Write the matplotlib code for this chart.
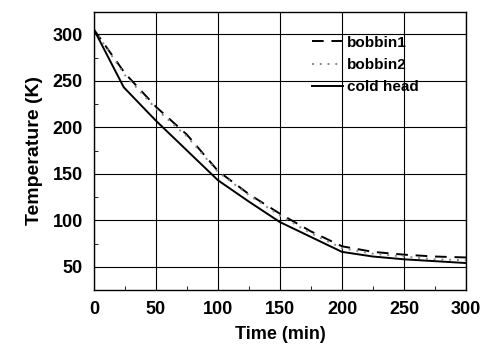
import numpy as np
from matplotlib import pyplot as plt
from matplotlib.ticker import MultipleLocator

# curves (time in min, temperature in K)
time_cold = [0, 24, 50, 75, 100, 125, 150, 175, 200, 225, 250, 275, 300]
temp_cold = [305, 243, 207, 175, 143, 120, 98, 82, 66, 61, 58, 56, 54]

time_b1 = [0, 25, 50, 75, 100, 125, 150, 175, 200, 225, 250, 275, 300]
temp_b1 = [305, 258, 222, 192, 153, 128, 107, 88, 72, 66, 63, 61, 60]

time_b2 = [0, 25, 50, 75, 100, 125, 150, 175, 200, 225, 250, 275, 300]
temp_b2 = [305, 256, 220, 190, 152, 127, 105, 86, 70, 64, 61, 58, 57]

x_ticks = [0, 50, 100, 150, 200, 250, 300]
y_ticks = [50, 100, 150, 200, 250, 300]

plt.rcParams["font.family"] = ["Liberation Sans", "DejaVu Sans"]

fig = plt.figure(figsize=(4.89, 3.45), dpi=100)
ax = fig.add_axes([94 / 489, 1 - 290 / 345, 372 / 489, 278 / 345])

ax.plot(time_b1, temp_b1, color="black", lw=1.4, ls=(0, (6, 4)), label="bobbin1")
ax.plot(time_b2, temp_b2, color="#888888", lw=1.4, ls=(0, (1, 3)), label="bobbin2")
ax.plot(time_cold, temp_cold, color="black", lw=1.4, label="cold head")

ax.set_xlim(0, 300)
ax.set_ylim(25, 324)
ax.set_xticks(x_ticks)
ax.set_yticks(y_ticks)
ax.xaxis.set_minor_locator(MultipleLocator(25))
ax.yaxis.set_minor_locator(MultipleLocator(25))
ax.tick_params(which="both", direction="in", top=False, right=False)
ax.tick_params(which="major", length=0, labelsize=13, pad=8)
ax.tick_params(which="minor", length=3)
for lab in ax.get_xticklabels() + ax.get_yticklabels():
  lab.set_fontweight("bold")

ax.grid(True, which="major", color="black", lw=0.8)
for s in ax.spines.values():
  s.set_linewidth(1.0)

ax.set_xlabel("Time (min)", fontsize=13, fontweight="bold", labelpad=6)
ax.set_ylabel("Temperature (K)", fontsize=14, fontweight="bold", labelpad=7)

leg = ax.legend(
  loc="upper left",
  bbox_to_anchor=(0.586, 0.915),
  borderaxespad=0,
  borderpad=0,
  frameon=False,
  handlelength=2.0,
  handletextpad=0.3,
  labelspacing=0.55,
  prop={"weight": "bold", "size": 11},
)

fig.savefig("out.png", dpi=100)
